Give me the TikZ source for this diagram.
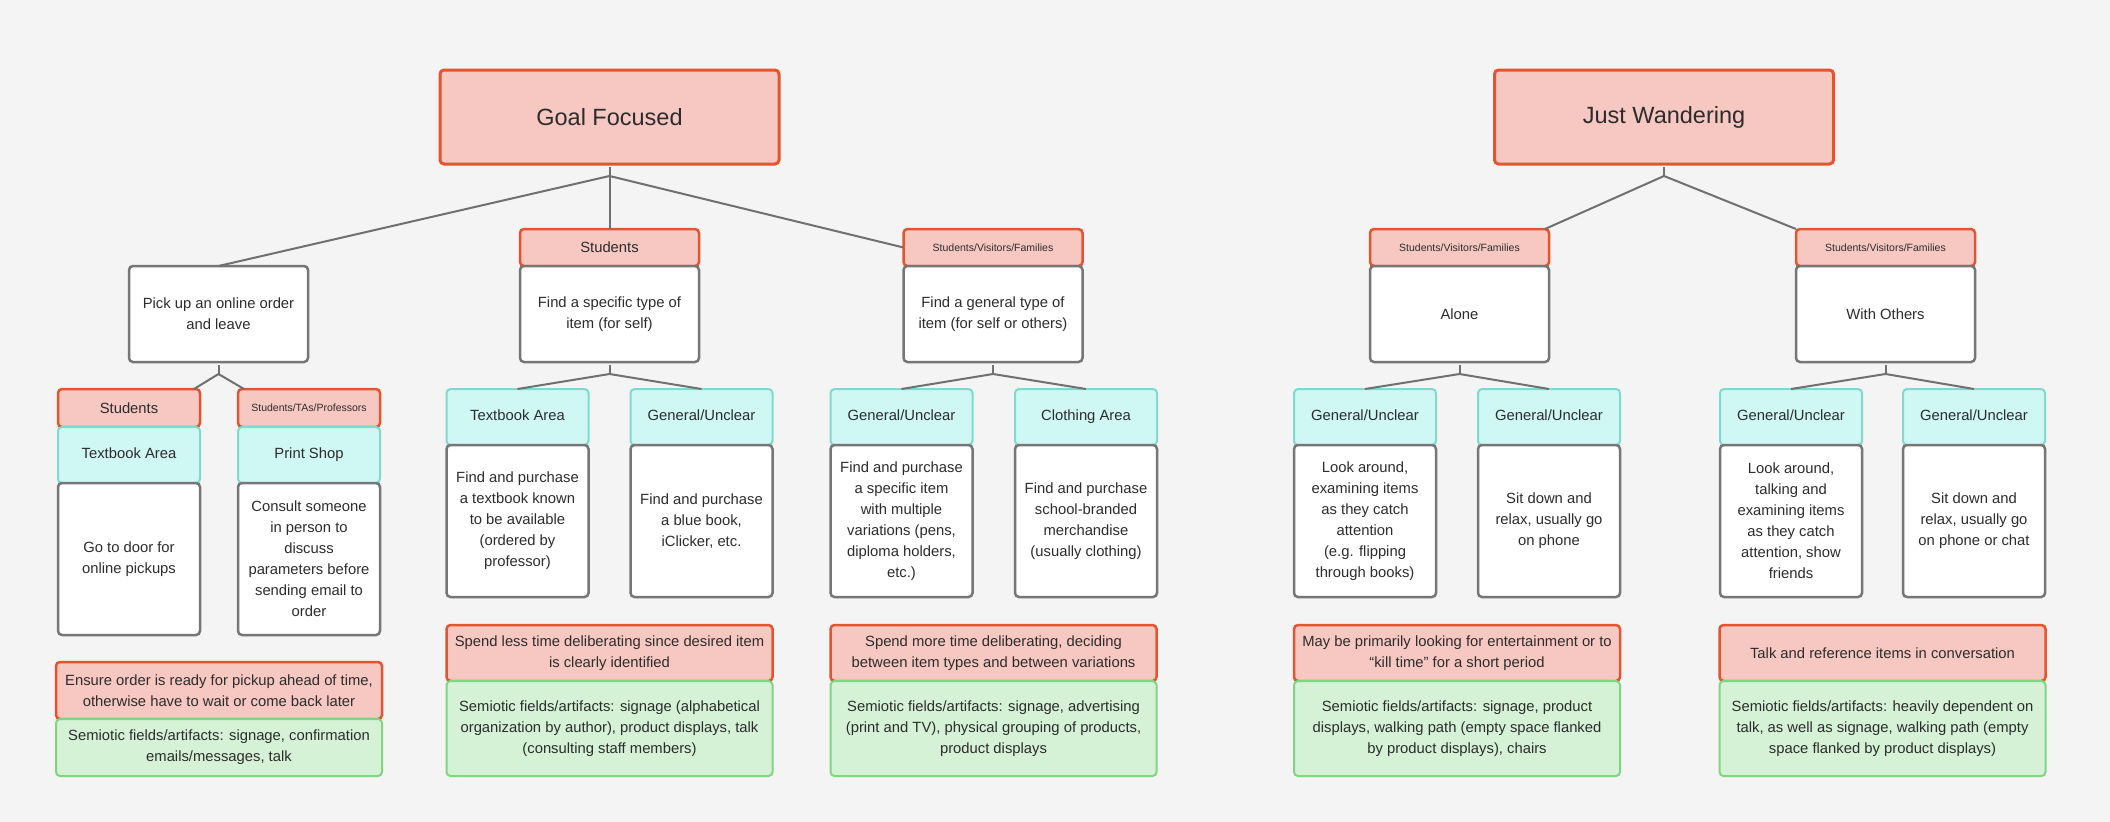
\documentclass[tikz,border=0pt]{standalone}
\usepackage{fontspec}
\setmainfont{Liberation Sans}
\usetikzlibrary{positioning}

\definecolor{bg}{HTML}{F4F4F4}
\definecolor{redfill}{HTML}{F6C8C1}
\definecolor{redline}{HTML}{E4552F}
\definecolor{cyanfill}{HTML}{CFF7F3}
\definecolor{cyanline}{HTML}{80D9CF}
\definecolor{greenfill}{HTML}{D5F2D7}
\definecolor{greenline}{HTML}{80D580}
\definecolor{boxline}{HTML}{767676}
\definecolor{linkgray}{HTML}{707070}
\definecolor{ink}{HTML}{2C2C2C}

\newcommand{\bodysize}{\fontsize{14.8}{21}\selectfont}
\newcommand{\smallsize}{\fontsize{10.5}{13}\selectfont}
\newcommand{\titlesize}{\fontsize{23.5}{28}\selectfont}

\tikzset{
  card/.style={rectangle, rounded corners=4pt, inner sep=0pt, outer sep=0pt,
    align=center, text=ink, font=\bodysize},
  oneline/.style={text height=10.6pt, text depth=3.1pt},
  redcard/.style={card, fill=redfill, draw=redline, line width=2.5pt},
  cyancard/.style={card, fill=cyanfill, draw=cyanline, line width=2pt},
  whitecard/.style={card, fill=white, draw=boxline, line width=2.5pt},
  greencard/.style={card, fill=greenfill, draw=greenline, line width=2pt},
  headline/.style={redcard, line width=3pt, minimum width=339pt, minimum height=94pt, font=\titlesize},
  whobox/.style={redcard, minimum width=179pt, minimum height=37pt},
  subwho/.style={redcard, minimum width=142pt, minimum height=38pt},
  aimbox/.style={whitecard, minimum width=179pt, minimum height=96pt},
  wherebox/.style={cyancard, oneline, minimum width=142pt, minimum height=56pt},
  actbox/.style={whitecard, minimum width=142pt, minimum height=152pt},
  notebox/.style={redcard, minimum width=326pt, minimum height=56pt},
  signbox/.style={greencard, minimum width=326pt},
  wire/.style={draw=linkgray, line width=2pt},
}

\begin{document}
\begin{tikzpicture}[x=1pt, y=-1pt, node distance=0pt]
  \useasboundingbox[fill=bg] (0,0) rectangle (2110,822);

  % top level
  \path
  node[headline] (goal) at (609.5,117) {Goal Focused}
  node[headline] (wand) at (1664,117) {Just Wandering}
  ;

  % goal focused
  \path
  node[aimbox] (pick) at (218.5,314) {Pick up an online order\\and leave}
  node[whobox] (spec_h) at (609.5,247.5) {Students}
  node[aimbox] (spec) [below=of spec_h] {Find a specific type of\\item (for self)}
  node[whobox, font=\smallsize] (gen_h) at (993,247.5) {Students/Visitors/Families}
  node[aimbox] (gen) [below=of gen_h] {Find a general type of\\item (for self or others)}
  ;

  % pick up an order
  \path
  node[subwho] (stu_a) at (129,408) {Students}
  node[wherebox] (tb_a) [below=of stu_a] {Textbook Area}
  node[actbox] (door) [below=of tb_a] {Go to door for\\online pickups}
  node[subwho, font=\smallsize] (stap) at (309,408) {Students/TAs/Professors}
  node[wherebox] (print) [below=of stap] {Print Shop}
  node[actbox] (consult) [below=of print]
    {Consult someone\\in person to\\discuss\\parameters before\\sending email to\\order}
  node[notebox, minimum height=57pt] (ensure) at (219,690.5)
    {Ensure order is ready for pickup ahead of time,\\otherwise have to wait or come back later}
  node[signbox, minimum height=57pt] (sign_a) [below=of ensure]
    {Semiotic fields/artifacts: signage, confirmation\\emails/messages, talk}
  ;

  % specific item
  \path
  node[wherebox] (tb_b) at (517.5,417) {Textbook Area}
  node[actbox] (textbook) [below=of tb_b]
    {Find and purchase\\a textbook known\\to be available\\(ordered by\\professor)}
  node[wherebox] (gu_b) at (701.5,417) {General/Unclear}
  node[actbox] (bluebook) [below=of gu_b]
    {Find and purchase\\a blue book,\\iClicker, etc.}
  node[notebox] (less) at (609.5,653)
    {Spend less time deliberating since desired item\\is clearly identified}
  node[signbox, minimum height=95pt] (sign_b) [below=of less]
    {Semiotic fields/artifacts: signage (alphabetical\\organization by author), product displays, talk\\(consulting staff members)}
  ;

  % general item
  \path
  node[wherebox] (gu_c) at (901.5,417) {General/Unclear}
  node[actbox] (pens) [below=of gu_c]
    {Find and purchase\\a specific item\\with multiple\\variations (pens,\\diploma holders,\\etc.)}
  node[wherebox] (cloth) at (1086,417) {Clothing Area}
  node[actbox] (merch) [below=of cloth]
    {Find and purchase\\school-branded\\merchandise\\(usually clothing)}
  node[notebox] (more) at (993.5,653)
    {Spend more time deliberating, deciding\\between item types and between variations}
  node[signbox, minimum height=95pt] (sign_c) [below=of more]
    {Semiotic fields/artifacts: signage, advertising\\(print and TV), physical grouping of products,\\product displays}
  ;

  % just wandering
  \path
  node[whobox, font=\smallsize] (alone_h) at (1459.5,247.5) {Students/Visitors/Families}
  node[aimbox] (alone) [below=of alone_h] {Alone}
  node[whobox, font=\smallsize] (with_h) at (1885.5,247.5) {Students/Visitors/Families}
  node[aimbox] (with) [below=of with_h] {With Others}
  ;

  % alone
  \path
  node[wherebox] (gu_d) at (1365,417) {General/Unclear}
  node[actbox] (browse) [below=of gu_d]
    {Look around,\\examining items\\as they catch\\attention\\(e.g. flipping\\through books)}
  node[wherebox] (gu_e) at (1549,417) {General/Unclear}
  node[actbox] (sit_a) [below=of gu_e]
    {Sit down and\\relax, usually go\\on phone}
  node[notebox] (fun) at (1457,653)
    {May be primarily looking for entertainment or to\\“kill time” for a short period}
  node[signbox, minimum height=95pt] (sign_d) [below=of fun]
    {Semiotic fields/artifacts: signage, product\\displays, walking path (empty space flanked\\by product displays), chairs}
  ;

  % with others
  \path
  node[wherebox] (gu_f) at (1791,417) {General/Unclear}
  node[actbox] (chat) [below=of gu_f]
    {Look around,\\talking and\\examining items\\as they catch\\attention, show\\friends}
  node[wherebox] (gu_g) at (1974,417) {General/Unclear}
  node[actbox] (sit_b) [below=of gu_g]
    {Sit down and\\relax, usually go\\on phone or chat}
  node[notebox] (talk) at (1882.5,653) {Talk and reference items in conversation}
  node[signbox, minimum height=95pt] (sign_e) [below=of talk]
    {Semiotic fields/artifacts: heavily dependent on\\talk, as well as signage, walking path (empty\\space flanked by product displays)}
  ;

  % junctions
  \coordinate[below=12pt of goal] (goal_j);
  \coordinate[below=12pt of wand] (wand_j);
  \coordinate[below=12pt of pick] (pick_j);
  \coordinate[below=12pt of spec] (spec_j);
  \coordinate[below=12pt of gen] (gen_j);
  \coordinate[below=12pt of alone] (alone_j);
  \coordinate[below=12pt of with] (with_j);

  \path[wire]
  (goal.south) edge[shorten <=3pt] (goal_j)
  (goal_j) edge (pick.north)
  (goal_j) edge (spec_h.north)
  (goal_j) edge (gen_h.west)

  (pick.south) edge[shorten <=3pt] (pick_j)
  (pick_j) edge ([xshift=-6pt]stu_a.north east)
  (pick_j) edge ([xshift=6pt]stap.north west)

  (spec.south) edge[shorten <=3pt] (spec_j)
  (spec_j) edge (tb_b.north)
  (spec_j) edge (gu_b.north)

  (gen.south) edge[shorten <=3pt] (gen_j)
  (gen_j) edge (gu_c.north)
  (gen_j) edge (cloth.north)

  (wand.south) edge[shorten <=3pt] (wand_j)
  (wand_j) edge ([xshift=-4pt]alone_h.north east)
  (wand_j) edge (with_h.north west)

  (alone.south) edge[shorten <=3pt] (alone_j)
  (alone_j) edge (gu_d.north)
  (alone_j) edge (gu_e.north)

  (with.south) edge[shorten <=3pt] (with_j)
  (with_j) edge (gu_f.north)
  (with_j) edge (gu_g.north)
  ;
\end{tikzpicture}
\end{document}
